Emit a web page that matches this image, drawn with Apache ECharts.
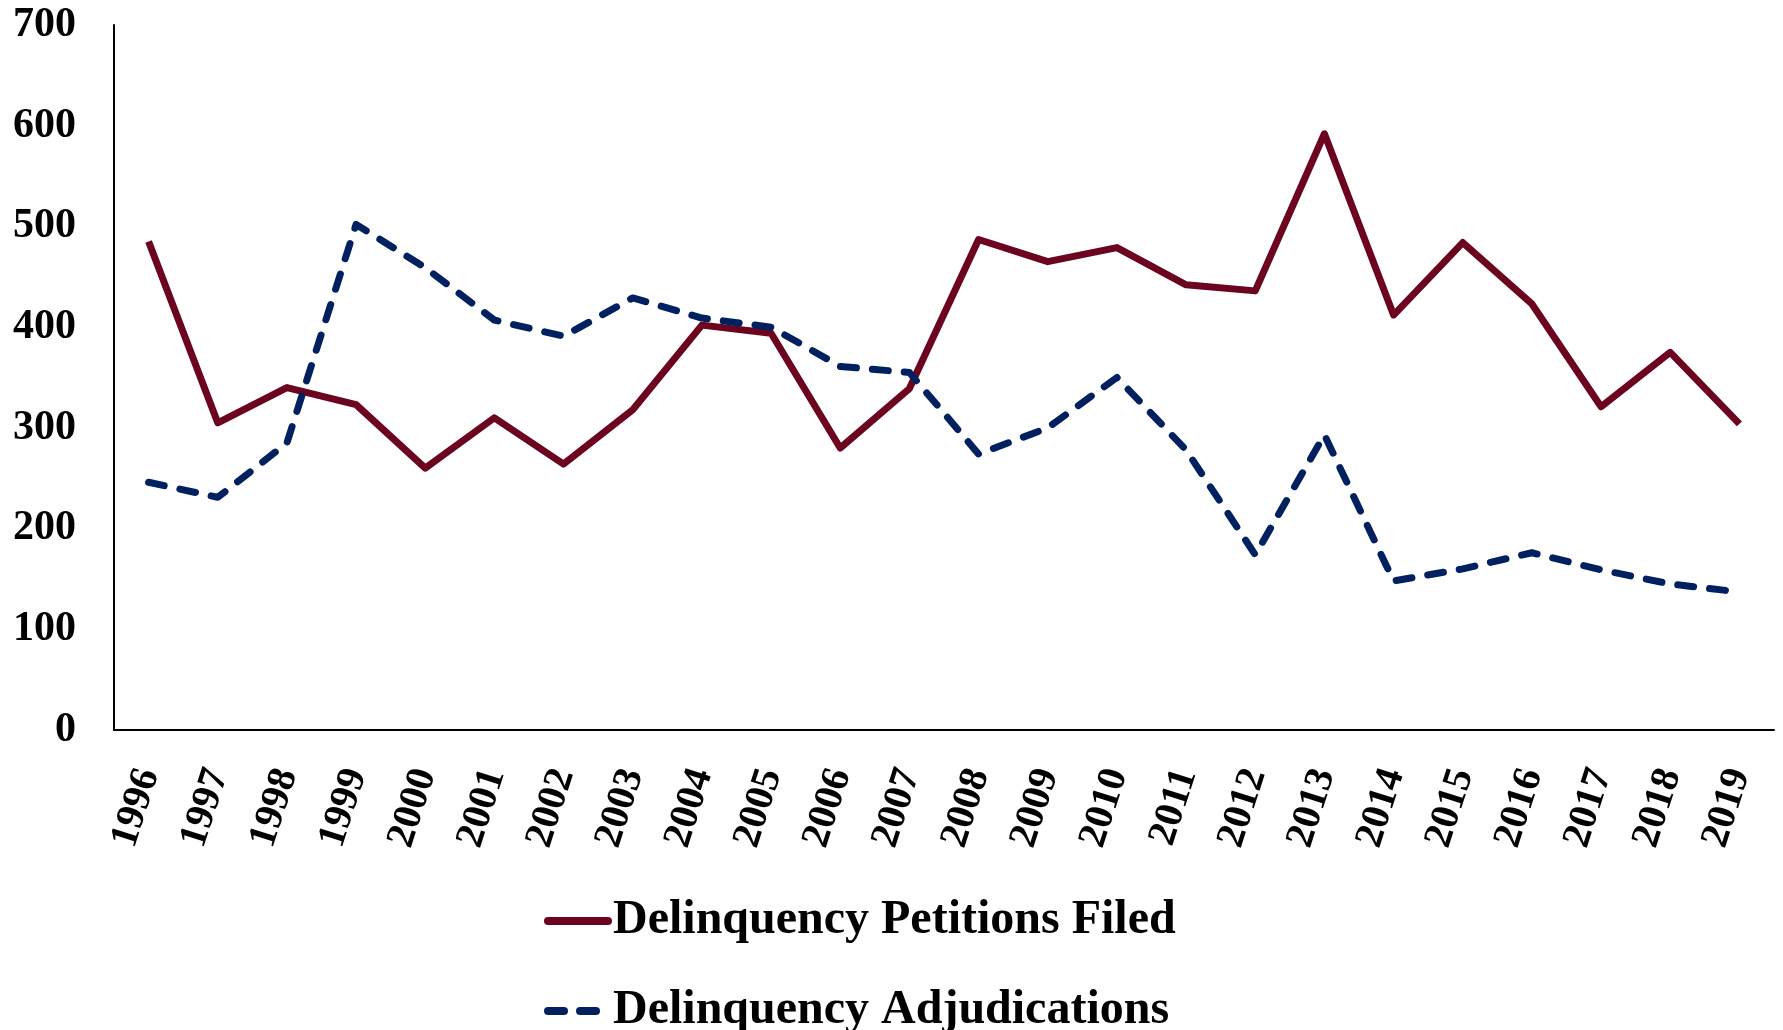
<!DOCTYPE html>
<html>
<head>
<meta charset="utf-8">
<script src="https://cdn.jsdelivr.net/npm/echarts@6/dist/echarts.min.js"></script>
<style>
  html, body { margin: 0; padding: 0; background: #fff; }
  #main { width: 1783px; height: 1030px; }
</style>
</head>
<body>
<div id="main"></div>
<script>
// data
const years = ['1996', '1997', '1998', '1999', '2000', '2001', '2002', '2003', '2004', '2005', '2006', '2007',
  '2008', '2009', '2010', '2011', '2012', '2013', '2014', '2015', '2016', '2017', '2018', '2019'];
const petitionsFiled = [485, 305, 340, 323, 260, 310, 264, 318, 402, 394, 280, 339,
  487, 465, 479, 442, 436, 592, 412, 484, 423, 321, 375, 304];
const adjudications = [246, 231, 285, 502, 459, 407, 391, 429, 409, 400, 361, 355,
  274, 300, 350, 278, 174, 293, 148, 160, 176, 159, 145, 137];
const seriesNames = ['Delinquency Petitions Filed', 'Delinquency Adjudications'];
const yTicks = { min: 0, max: 700, interval: 100 };

const serif = "'Liberation Serif', 'Times New Roman', serif";
const myChart = echarts.init(document.getElementById('main'));

// one legend per entry so the second row is not wrapped into a new column
function legendFor(name, top) {
  return {
    left: 539,
    top: top,
    itemWidth: 60,
    itemHeight: 14,
    lineStyle: { width: 8, cap: 'round' },
    itemStyle: { opacity: 0 },
    textStyle: {
      fontFamily: serif,
      fontWeight: 'bold',
      fontSize: 48,
      lineHeight: 48,
      color: '#000'
    },
    data: [name]
  };
}

const option = {
  animation: false,
  backgroundColor: '#fff',
  grid: {
    left: 114,
    right: 9,
    top: 25,
    bottom: 300,
    containLabel: false,
    outerBoundsMode: 'none'
  },
  legend: [legendFor(seriesNames[0], 892), legendFor(seriesNames[1], 982)],
  xAxis: {
    type: 'category',
    data: years,
    boundaryGap: true,
    axisLine: { lineStyle: { color: '#000', width: 2 } },
    axisTick: { show: false },
    axisLabel: {
      rotate: 72,
      margin: 40,
      interval: 0,
      fontFamily: serif,
      fontWeight: 'bold',
      fontSize: 40,
      color: '#000'
    }
  },
  yAxis: {
    type: 'value',
    min: yTicks.min,
    max: yTicks.max,
    interval: yTicks.interval,
    axisLine: { show: true, lineStyle: { color: '#000', width: 2 } },
    axisTick: { show: false },
    splitLine: { show: false },
    axisLabel: {
      margin: 38,
      fontFamily: serif,
      fontWeight: 'bold',
      fontSize: 42,
      color: '#000'
    }
  },
  series: [
    {
      name: seriesNames[0],
      type: 'line',
      data: petitionsFiled,
      symbol: 'none',
      color: '#6c0420',
      lineStyle: { color: '#6c0420', width: 7, join: 'round' }
    },
    {
      name: seriesNames[1],
      type: 'line',
      data: adjudications,
      symbol: 'none',
      color: '#00205f',
      lineStyle: { color: '#00205f', width: 7, type: [16, 16], cap: 'round', join: 'round' }
    }
  ]
};
myChart.setOption(option);
</script>
</body>
</html>
